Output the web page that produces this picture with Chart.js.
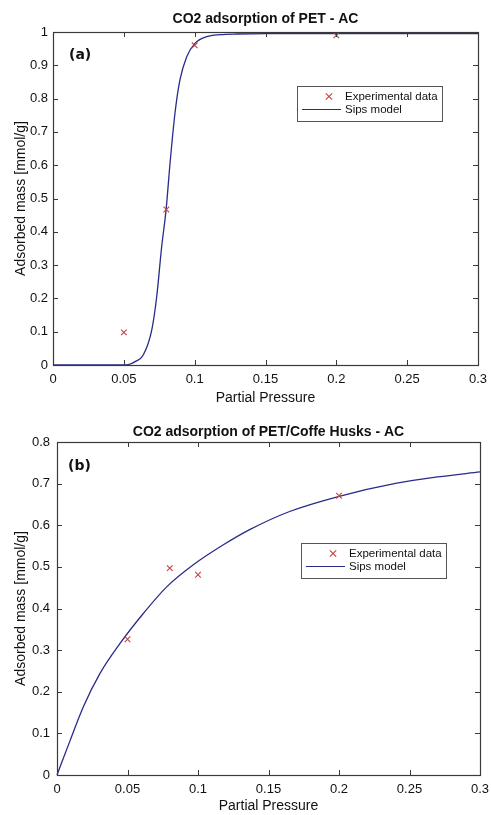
<!DOCTYPE html>
<html>
<head>
<meta charset="utf-8">
<script src="https://cdn.jsdelivr.net/npm/chart.js@4.4.0/dist/chart.umd.min.js"></script>
<style>
  html, body { margin: 0; padding: 0; background: #fff; }
  #wrap { width: 491px; height: 815px; position: relative; }
  .box { position: absolute; left: 0; width: 491px; }
</style>
</head>
<body>
<div id="wrap">
  <div class="box" style="top:0;height:407px"><canvas id="ca"></canvas></div>
  <div class="box" style="top:407px;height:408px"><canvas id="cb"></canvas></div>
</div>
<script>
// ---------- DATA ----------
const xTicks = [0, 0.05, 0.1, 0.15, 0.2, 0.25, 0.3];
const xTickLabels = ["0", "0.05", "0.1", "0.15", "0.2", "0.25", "0.3"];
const yTicksA = [0, 0.1, 0.2, 0.3, 0.4, 0.5, 0.6, 0.7, 0.8, 0.9, 1];
const yTickLabelsA = ["0", "0.1", "0.2", "0.3", "0.4", "0.5", "0.6", "0.7", "0.8", "0.9", "1"];
const yTicksB = [0, 0.1, 0.2, 0.3, 0.4, 0.5, 0.6, 0.7, 0.8];
const yTickLabelsB = ["0", "0.1", "0.2", "0.3", "0.4", "0.5", "0.6", "0.7", "0.8"];

// (a) PET - AC
const expXA = [0.05, 0.08, 0.1, 0.2];
const expYA = [0.098, 0.467, 0.96, 0.99];
const modelXA = [0, 0.045, 0.053, 0.058, 0.0637, 0.0697, 0.0732, 0.0767, 0.0798, 0.0826, 0.0861, 0.0896, 0.0944, 0.1002, 0.1085, 0.118, 0.13, 0.15, 0.2, 0.25, 0.3];
const modelYA = [0, 0, 0.001, 0.01, 0.03, 0.105, 0.205, 0.355, 0.465, 0.605, 0.756, 0.856, 0.926, 0.966, 0.986, 0.992, 0.994, 0.995, 0.995, 0.995, 0.995];

// (b) PET/Coffe Husks - AC
const expXB = [0.05, 0.08, 0.1, 0.2];
const expYB = [0.326, 0.497, 0.481, 0.671];
const modelXB = [0, 0.0092, 0.0187, 0.0305, 0.0447, 0.0612, 0.0778, 0.0967, 0.118, 0.137, 0.165, 0.1995, 0.241, 0.27, 0.3];
const modelYB = [0, 0.082, 0.164, 0.244, 0.316, 0.388, 0.452, 0.505, 0.553, 0.59, 0.633, 0.669, 0.701, 0.716, 0.728];

const seriesLabels = ["Experimental data", "Sips model"];
const titles = ["CO2 adsorption of PET - AC", "CO2 adsorption of PET/Coffe Husks - AC"];
const panelTags = ["(a)", "(b)"];
const xTitle = "Partial Pressure";
const yTitle = "Adsorbed mass [mmol/g]";

// ---------- STYLE ----------
const RED = "#c8413f";
const BLUE = "#2a2a8a";
const AXIS = "#3a3a3a";
const FONT = "Liberation Sans, Arial, sans-serif";

function pts(xs, ys) { return xs.map((x, i) => ({ x: x, y: ys[i] })); }

const decorPlugin = {
  id: 'decor',
  afterDraw(chart, args, o) {
    const ctx = chart.ctx, a = chart.chartArea;
    const xs = chart.scales.x, ys = chart.scales.y;
    ctx.save();
    ctx.strokeStyle = AXIS;
    ctx.lineWidth = 1;
    ctx.beginPath();
    const TL = 5;
    o.xt.forEach(v => {
      const px = Math.round(xs.getPixelForValue(v)) + 0.5;
      ctx.moveTo(px, a.bottom); ctx.lineTo(px, a.bottom - TL);
      ctx.moveTo(px, a.top); ctx.lineTo(px, a.top + TL);
    });
    o.yt.forEach(v => {
      const py = Math.round(ys.getPixelForValue(v)) + 0.5;
      ctx.moveTo(a.left, py); ctx.lineTo(a.left + TL, py);
      ctx.moveTo(a.right, py); ctx.lineTo(a.right - TL, py);
    });
    ctx.stroke();
    ctx.strokeStyle = AXIS;
    ctx.lineWidth = 1.2;
    ctx.strokeRect(Math.round(a.left) + 0.5, Math.round(a.top) + 0.5, Math.round(a.right - a.left), Math.round(a.bottom - a.top));
    ctx.fillStyle = "#111";
    ctx.font = "bold 14px " + FONT;
    ctx.textAlign = "center";
    ctx.textBaseline = "middle";
    ctx.fillText(o.title, (a.left + a.right) / 2, o.titleY);
    ctx.font = "bold 14px 'DejaVu Sans', Verdana, sans-serif";
    ctx.textAlign = "left";
    ctx.fillText(o.tag, o.tagX, o.tagY);
    const L = o.legend;
    ctx.fillStyle = "#fff";
    ctx.fillRect(L.x, L.y, L.w, L.h);
    ctx.strokeStyle = "#555";
    ctx.lineWidth = 1;
    ctx.strokeRect(L.x + 0.5, L.y + 0.5, L.w, L.h);
    const ds = chart.data.datasets;
    const my = L.y + 10.5, ly = L.y + 23.5;
    ctx.strokeStyle = ds[0].borderColor;
    ctx.lineWidth = 1.1;
    const mx = L.x + 32, r = 3.2;
    ctx.beginPath();
    ctx.moveTo(mx - r, my - r); ctx.lineTo(mx + r, my + r);
    ctx.moveTo(mx + r, my - r); ctx.lineTo(mx - r, my + r);
    ctx.stroke();
    ctx.strokeStyle = ds[1].borderColor;
    ctx.lineWidth = 1.2;
    ctx.beginPath();
    ctx.moveTo(L.x + 5, ly); ctx.lineTo(L.x + 44, ly);
    ctx.stroke();
    ctx.fillStyle = "#111";
    ctx.font = "11.5px " + FONT;
    ctx.textAlign = "left";
    ctx.textBaseline = "middle";
    ctx.fillText(ds[0].label, L.x + 48, my);
    ctx.fillText(ds[1].label, L.x + 48, ly);
    ctx.restore();
  }
};

function makeChart(id, cfg) {
  return new Chart(document.getElementById(id), {
    type: 'scatter',
    data: {
      datasets: [
        {
          label: seriesLabels[0],
          data: pts(cfg.ex, cfg.ey),
          showLine: false,
          pointStyle: 'crossRot',
          pointRadius: 4,
          borderColor: RED,
          backgroundColor: RED,
          borderWidth: 1.1,
          order: 1
        },
        {
          label: seriesLabels[1],
          data: pts(cfg.mx, cfg.my),
          showLine: true,
          pointRadius: 0,
          borderColor: BLUE,
          borderWidth: 1.3,
          cubicInterpolationMode: 'monotone',
          fill: false,
          order: 2
        }
      ]
    },
    options: {
      responsive: true,
      maintainAspectRatio: false,
      animation: false,
      clip: false,
      layout: { padding: { top: cfg.top, left: 0, right: cfg.right, bottom: 0 } },
      plugins: {
        legend: { display: false },
        tooltip: { enabled: false },
        decor: cfg.decor
      },
      scales: {
        x: {
          type: 'linear', min: 0, max: 0.3,
          afterBuildTicks: s => { s.ticks = xTicks.map(v => ({ value: v })); },
          afterFit: s => { s.height = cfg.xh; s.paddingLeft = 0; s.paddingRight = 0; },
          grid: { display: false, drawTicks: false },
          border: { display: false },
          ticks: {
            color: "#111", padding: cfg.xpad, maxRotation: 0, autoSkip: false,
            font: { family: FONT, size: 13 },
            callback: (v, i) => xTickLabels[i]
          },
          title: { display: true, text: xTitle, color: "#111", font: { family: FONT, size: 14 }, padding: { top: 0, bottom: cfg.xtb } }
        },
        y: {
          type: 'linear', min: 0, max: cfg.ymax,
          afterBuildTicks: s => { s.ticks = cfg.yt.map(v => ({ value: v })); },
          afterFit: s => { s.width = cfg.yw; s.paddingTop = 0; s.paddingBottom = 0; },
          grid: { display: false, drawTicks: false },
          border: { display: false },
          ticks: {
            color: "#111", padding: cfg.ypad, autoSkip: false,
            font: { family: FONT, size: 13 },
            callback: (v, i) => cfg.yl[i]
          },
          title: { display: true, text: yTitle, color: "#111", font: { family: FONT, size: 14 }, padding: { top: 13, bottom: 0 } }
        }
      }
    },
    plugins: [decorPlugin]
  });
}

makeChart('ca', {
  ex: expXA, ey: expYA, mx: modelXA, my: modelYA,
  ymax: 1, yt: yTicksA, yl: yTickLabelsA,
  top: 32, right: 13, xh: 42, yw: 53, xpad: 7, xtb: 0, ypad: 5,
  decor: {
    xt: xTicks, yt: yTicksA, title: titles[0], titleY: 19,
    tag: panelTags[0], tagX: 69, tagY: 55,
    legend: { x: 297, y: 86, w: 145, h: 35 }
  }
});

makeChart('cb', {
  ex: expXB, ey: expYB, mx: modelXB, my: modelYB,
  ymax: 0.8, yt: yTicksB, yl: yTickLabelsB,
  top: 35, right: 11, xh: 40, yw: 57, xpad: 7, xtb: 0, ypad: 7,
  decor: {
    xt: xTicks, yt: yTicksB, title: titles[1], titleY: 25,
    tag: panelTags[1], tagX: 68, tagY: 59,
    legend: { x: 301, y: 136, w: 145, h: 35 }
  }
});
</script>
</body>
</html>
